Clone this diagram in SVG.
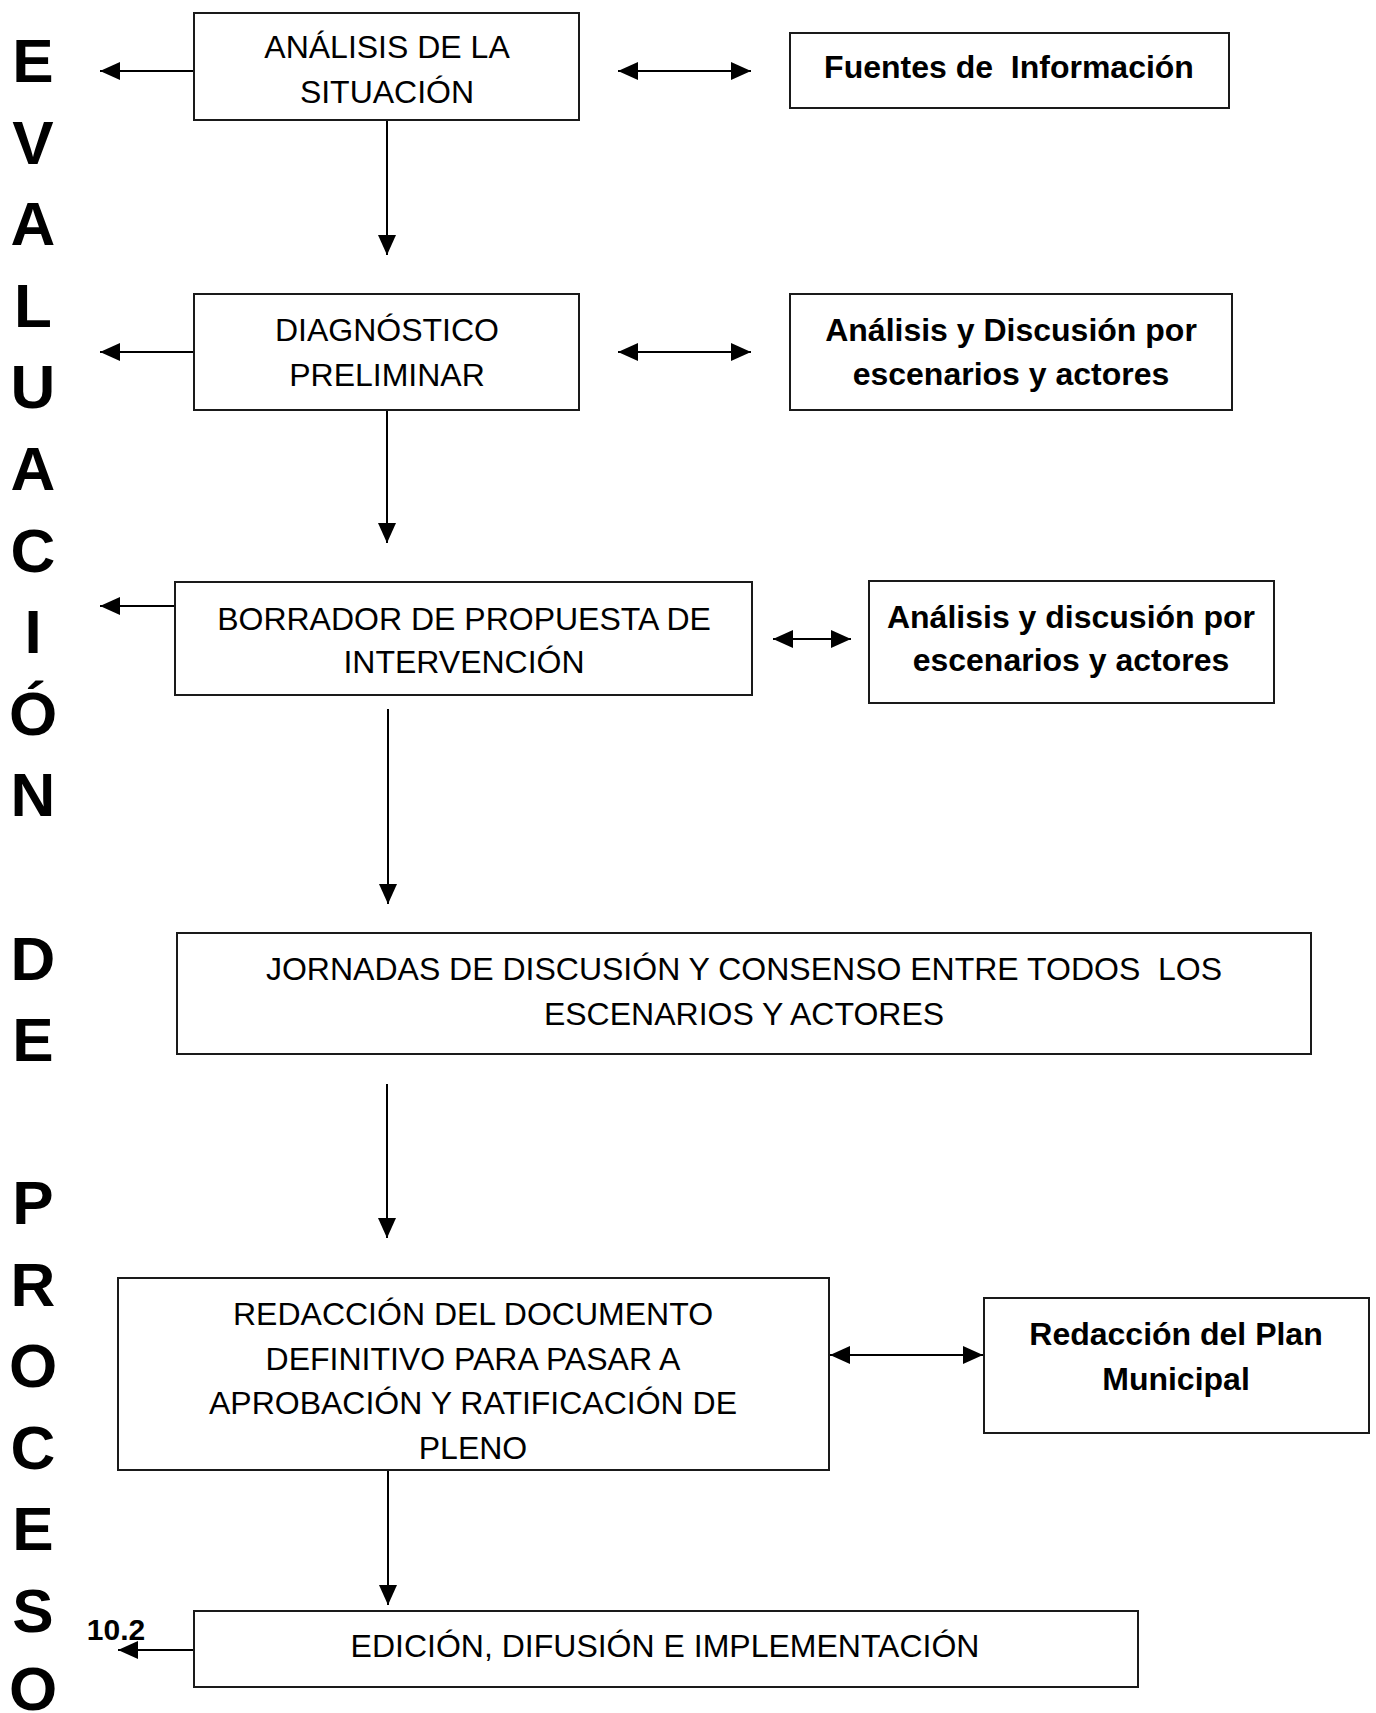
<svg xmlns="http://www.w3.org/2000/svg" width="1376" height="1713" viewBox="0 0 1376 1713">
<style>
.bx{fill:#fff;stroke:#1a1a1a;stroke-width:2}
.t{font-family:"Liberation Sans",Arial,sans-serif;font-size:32px;fill:#000;text-anchor:middle}
.b{font-family:"Liberation Sans",Arial,sans-serif;font-size:32px;font-weight:bold;fill:#000;text-anchor:middle}
.v{font-family:"Liberation Sans",Arial,sans-serif;font-size:62px;font-weight:bold;fill:#000;text-anchor:middle}
.c{stroke:#000;stroke-width:2;fill:none}
</style>
<defs>
<marker id="ah" viewBox="0 0 20 18" refX="20" refY="9" markerWidth="20" markerHeight="18" markerUnits="userSpaceOnUse" orient="auto-start-reverse"><path d="M0,0 L20,9 L0,18 z" fill="#000"/></marker>
</defs>
<rect width="1376" height="1713" fill="#fff"/>
<g id="side-label">
<text class="v" x="33" y="82">E</text>
<text class="v" x="33" y="164">V</text>
<text class="v" x="33" y="245">A</text>
<text class="v" x="33" y="327">L</text>
<text class="v" x="33" y="408">U</text>
<text class="v" x="33" y="490">A</text>
<text class="v" x="33" y="572">C</text>
<text class="v" x="33" y="653">I</text>
<text class="v" x="33" y="735">Ó</text>
<text class="v" x="33" y="816">N</text>
<text class="v" x="33" y="980">D</text>
<text class="v" x="33" y="1061">E</text>
<text class="v" x="33" y="1224">P</text>
<text class="v" x="33" y="1306">R</text>
<text class="v" x="33" y="1387">O</text>
<text class="v" x="33" y="1469">C</text>
<text class="v" x="33" y="1550">E</text>
<text class="v" x="33" y="1632">S</text>
<text class="v" x="33" y="1710">O</text>
</g>
<g id="connectors">
<line class="c" x1="194" y1="71" x2="100" y2="71" marker-end="url(#ah)"/>
<line class="c" x1="618" y1="71" x2="751" y2="71" marker-start="url(#ah)" marker-end="url(#ah)"/>
<line class="c" x1="387" y1="120" x2="387" y2="255" marker-end="url(#ah)"/>
<line class="c" x1="194" y1="352" x2="100" y2="352" marker-end="url(#ah)"/>
<line class="c" x1="618" y1="352" x2="751" y2="352" marker-start="url(#ah)" marker-end="url(#ah)"/>
<line class="c" x1="387" y1="410" x2="387" y2="543" marker-end="url(#ah)"/>
<line class="c" x1="175" y1="606" x2="100" y2="606" marker-end="url(#ah)"/>
<line class="c" x1="773" y1="639" x2="851" y2="639" marker-start="url(#ah)" marker-end="url(#ah)"/>
<line class="c" x1="388" y1="709" x2="388" y2="904" marker-end="url(#ah)"/>
<line class="c" x1="387" y1="1084" x2="387" y2="1238" marker-end="url(#ah)"/>
<line class="c" x1="830" y1="1355" x2="983" y2="1355" marker-start="url(#ah)" marker-end="url(#ah)"/>
<line class="c" x1="388" y1="1469" x2="388" y2="1605" marker-end="url(#ah)"/>
<line class="c" x1="194" y1="1650" x2="118" y2="1650" marker-end="url(#ah)"/>
</g>
<g id="n-analisis">
<rect class="bx" x="194" y="13" width="385" height="107"/>
<text class="t" x="387" y="58">ANÁLISIS DE LA</text>
<text class="t" x="387" y="103">SITUACIÓN</text>
</g>
<g id="n-fuentes">
<rect class="bx" x="790" y="33" width="439" height="75"/>
<text class="b" x="1009" y="78" xml:space="preserve">Fuentes de  Información</text>
</g>
<g id="n-diagnostico">
<rect class="bx" x="194" y="294" width="385" height="116"/>
<text class="t" x="387" y="341">DIAGNÓSTICO</text>
<text class="t" x="387" y="386">PRELIMINAR</text>
</g>
<g id="n-analisis-discusion-1">
<rect class="bx" x="790" y="294" width="442" height="116"/>
<text class="b" x="1011" y="341">Análisis y Discusión por</text>
<text class="b" x="1011" y="385">escenarios y actores</text>
</g>
<g id="n-borrador">
<rect class="bx" x="175" y="582" width="577" height="113"/>
<text class="t" x="464" y="630">BORRADOR DE PROPUESTA DE</text>
<text class="t" x="464" y="673">INTERVENCIÓN</text>
</g>
<g id="n-analisis-discusion-2">
<rect class="bx" x="869" y="581" width="405" height="122"/>
<text class="b" x="1071" y="628">Análisis y discusión por</text>
<text class="b" x="1071" y="671">escenarios y actores</text>
</g>
<g id="n-jornadas">
<rect class="bx" x="177" y="933" width="1134" height="121"/>
<text class="t" x="744" y="980" xml:space="preserve">JORNADAS DE DISCUSIÓN Y CONSENSO ENTRE TODOS  LOS</text>
<text class="t" x="744" y="1025">ESCENARIOS Y ACTORES</text>
</g>
<g id="n-redaccion">
<rect class="bx" x="118" y="1278" width="711" height="192"/>
<text class="t" x="473" y="1325">REDACCIÓN DEL DOCUMENTO</text>
<text class="t" x="473" y="1370">DEFINITIVO PARA PASAR A</text>
<text class="t" x="473" y="1414">APROBACIÓN Y RATIFICACIÓN DE</text>
<text class="t" x="473" y="1459">PLENO</text>
</g>
<g id="n-plan">
<rect class="bx" x="984" y="1298" width="385" height="135"/>
<text class="b" x="1176" y="1345">Redacción del Plan</text>
<text class="b" x="1176" y="1390">Municipal</text>
</g>
<g id="n-edicion">
<rect class="bx" x="194" y="1611" width="944" height="76"/>
<text class="t" x="665" y="1657">EDICIÓN, DIFUSIÓN E IMPLEMENTACIÓN</text>
</g>
<g id="label-102">
<text class="b" x="116" y="1640" style="font-size:30px">10.2</text>
</g>
</svg>
